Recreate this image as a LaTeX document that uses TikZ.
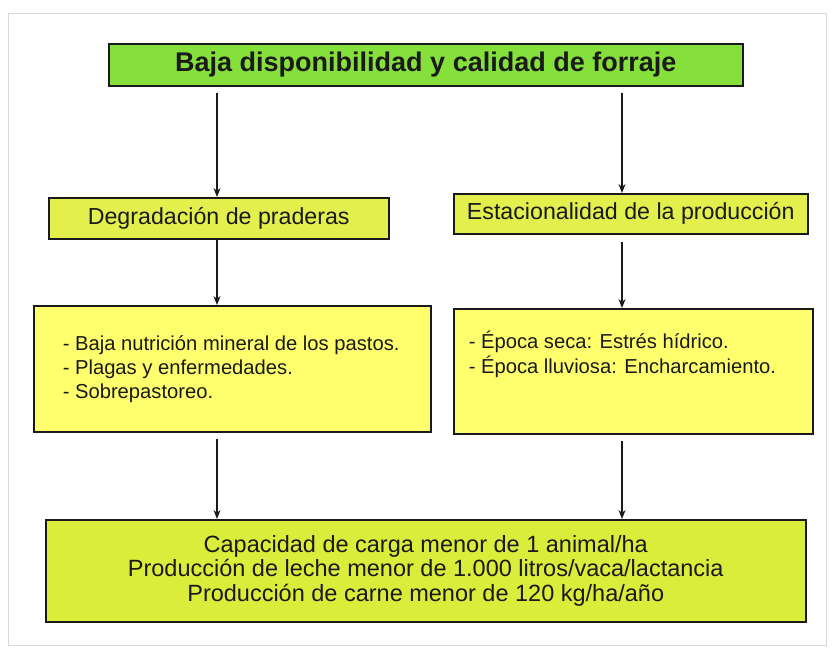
\documentclass[tikz,border=0pt]{standalone}
\usepackage{fontspec}
\setmainfont{Liberation Sans}
\usetikzlibrary{arrows.meta}
\definecolor{topgreen}{HTML}{86E03C}
\definecolor{headyel}{HTML}{E2EF4C}
\definecolor{paleyel}{HTML}{FFFF6E}
\definecolor{botyel}{HTML}{DAED3A}
\definecolor{inkc}{HTML}{1A1A1A}
\begin{document}
\begin{tikzpicture}[x=1pt,y=-1pt,
 box/.style={draw=inkc, line width=1.5pt, rectangle, inner sep=0pt, anchor=north west, text=inkc},
 conn/.style={draw=inkc, line width=1.2pt, -{Stealth[length=9pt,width=7pt]}},
 font=\fontsize{23.2}{26}\selectfont]
\useasboundingbox (0,0) rectangle (832,659);
\fill[white] (0,0) rectangle (832,659);
\draw[black!15, line width=1pt] (8,13) rectangle (826,645);

\coordinate (L) at (217,0);
\coordinate (R) at (622,0);

\node[box, fill=topgreen, minimum width=634pt, minimum height=42pt,
      font=\fontsize{27}{30}\selectfont\bfseries] (top) at (108,43)
  {Baja disponibilidad y calidad de forraje};

\node[box, fill=headyel, minimum width=340pt, minimum height=41pt] (deg) at (48,197)
  {Degradación de praderas};
\node[box, fill=headyel, minimum width=354pt, minimum height=40pt] (est) at (453,193)
  {Estacionalidad de la producción};

\node[box, fill=paleyel, minimum width=397pt, minimum height=126pt,
      font=\fontsize{20.2}{24}\selectfont] (lst1) at (33,305)
  {\parbox[c][126pt][c]{339pt}{- Baja nutrición mineral de los pastos.\\- Plagas y enfermedades.\\- Sobrepastoreo.}};
\node[box, fill=paleyel, minimum width=359pt, minimum height=125pt,
      font=\fontsize{20.2}{25}\selectfont] (lst2) at (453,308)
  {\parbox[c][125pt][t]{329pt}{\vspace*{22pt}- Época seca: Estrés hídrico.\\- Época lluviosa: Encharcamiento.}};

\node[box, fill=botyel, minimum width=760pt, minimum height=102pt, align=center,
      font=\fontsize{23.5}{24.5}\selectfont] (res) at (45,519)
  {Capacidad de carga menor de 1 animal/ha\\Producción de leche menor de 1.000 litros/vaca/lactancia\\Producción de carne menor de 120 kg/ha/año};

\draw[conn] ([yshift=-6pt]top.south -| L) -- (deg.north -| L);
\draw[conn] ([yshift=-6pt]top.south -| R) -- (est.north -| R);
\draw[conn] (deg.south -| L) -- (lst1.north -| L);
\draw[conn] ([yshift=-7pt]est.south -| R) -- (lst2.north -| R);
\draw[conn] ([yshift=-6pt]lst1.south -| L) -- (res.north -| L);
\draw[conn] ([yshift=-6pt]lst2.south -| R) -- (res.north -| R);
\end{tikzpicture}
\end{document}
